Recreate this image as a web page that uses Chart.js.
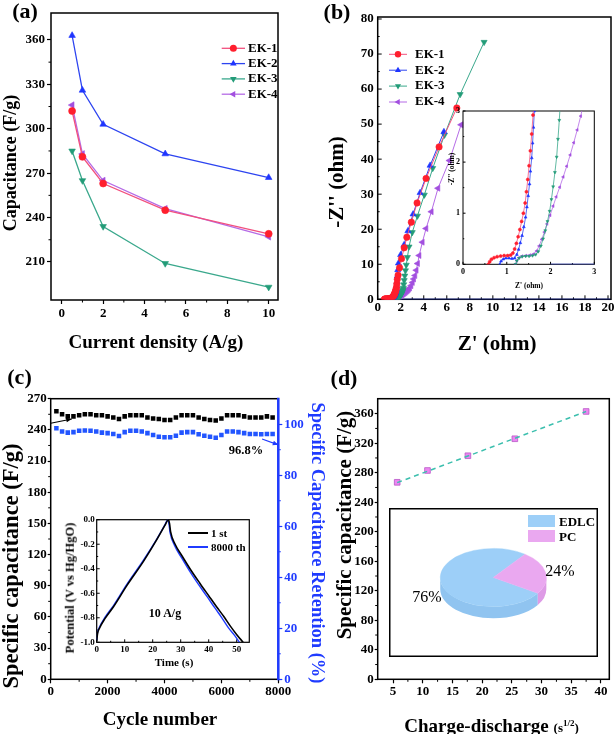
<!DOCTYPE html>
<html>
<head>
<meta charset="utf-8">
<script src="https://cdn.jsdelivr.net/npm/chart.js@4.4.1/dist/chart.umd.min.js"></script>
<style>
  html, body { margin: 0; padding: 0; background: #fff; overflow: hidden; }
  #fig { position: relative; width: 614px; height: 734px; overflow: hidden;
         font-family: "Liberation Serif", "Times New Roman", serif; color: #000; }
  #fig canvas { position: absolute; }
  .t { position: absolute; white-space: nowrap; line-height: 1; font-weight: bold; transform: translate(-50%, -50%); }
  .up { transform: translate(-50%, -50%) rotate(-90deg); }
  .dn { transform: translate(-50%, -50%) rotate(90deg); }
  .l { transform: translate(0, -50%); }
  .n { font-weight: normal; }
  .box { position: absolute; }
</style>
</head>
<body>
<div id="fig">
  <canvas id="cA" width="307" height="367" style="left:0;top:0"></canvas>
  <canvas id="cB" width="307" height="367" style="left:307px;top:0"></canvas>
  <canvas id="cBin" width="160" height="200" style="left:440px;top:100px"></canvas>
  <canvas id="cC" width="307" height="367" style="left:0;top:367px"></canvas>
  <canvas id="cCin" width="200" height="160" style="left:60px;top:500px"></canvas>
  <canvas id="cD" width="307" height="367" style="left:307px;top:367px"></canvas>
  <canvas id="cDin" width="209" height="149" style="left:389px;top:508px"></canvas>

  <!-- panel letters -->
  <div class="t" style="left:25px;top:11px;font-size:22px">(a)</div>
  <div class="t" style="left:337px;top:12px;font-size:22px">(b)</div>
  <div class="t" style="left:19.5px;top:377px;font-size:22px">(c)</div>
  <div class="t" style="left:344px;top:378px;font-size:22px">(d)</div>

  <!-- axis titles -->
  <div class="t up" style="left:9.5px;top:163px;font-size:18px">Capacitance (F/g)</div>
  <div class="t" style="left:156px;top:341px;font-size:19px">Current density (A/g)</div>
  <div class="t up" style="left:336px;top:182px;font-size:21px">-Z'' (ohm)</div>
  <div class="t" style="left:497px;top:343px;font-size:21px">Z' (ohm)</div>
  <div class="t up" style="left:452px;top:169px;font-size:7.5px">-Z'' (ohm)</div>
  <div class="t" style="left:529px;top:286px;font-size:7.5px">Z' (ohm)</div>

  <div class="t up" style="left:11px;top:566px;font-size:22.5px">Specific capacitance (F/g)</div>
  <div class="t dn" style="left:318px;top:543px;font-size:18.5px;color:#1f3bff">Specific Capacitance Retention (%)</div>
  <div class="t" style="left:160px;top:718px;font-size:19px">Cycle number</div>
  <div class="t up" style="left:70px;top:588px;font-size:12.5px">Potential (V vs Hg/HgO)</div>
  <div class="t" style="left:174px;top:662px;font-size:11px">Time (s)</div>

  <div class="t up" style="left:344px;top:525px;font-size:21px">Specific capacitance (F/g)</div>
  <div class="t" style="left:491.5px;top:725px;font-size:19px">Charge-discharge <span style="font-size:13px">(s<sup style="font-size:9px">1/2</sup>)</span></div>

  <!-- annotations (c) -->
  <div class="t" style="left:246px;top:450px;font-size:12.5px">96.8%</div>
  <div class="t" style="left:165px;top:613px;font-size:12px">10 A/g</div>
  <div class="box" style="left:188px;top:532px;width:20px;height:2px;background:#000"></div>
  <div class="t l" style="left:211px;top:533px;font-size:11px">1 st</div>
  <div class="box" style="left:188px;top:546px;width:20px;height:2px;background:#1f3bff"></div>
  <div class="t l" style="left:211px;top:547px;font-size:11px">8000 th</div>

  <!-- annotations (d) -->
  <div class="t n" style="left:427px;top:597px;font-size:16px">76%</div>
  <div class="t n" style="left:560px;top:571px;font-size:16px">24%</div>
  <div class="box" style="left:528px;top:515px;width:27px;height:12px;background:#9dcff8"></div>
  <div class="t l" style="left:559px;top:521px;font-size:13px">EDLC</div>
  <div class="box" style="left:528px;top:530px;width:27px;height:12px;background:#eaa8f0"></div>
  <div class="t l" style="left:559px;top:536px;font-size:13px">PC</div>
</div>

<script>
// (a) rate capability
const currentDensity = [0.5, 1, 2, 5, 10];
const capEK1 = [312, 281, 263, 245, 229];
const capEK2 = [363, 326, 303, 283, 267];
const capEK3 = [285, 265, 234, 209, 193];
const capEK4 = [316, 283, 265, 246, 227];
const ticksAx = [0, 2, 4, 6, 8, 10];
const ticksAy = [210, 240, 270, 300, 330, 360];

// (b) Nyquist plots, [Z', -Z'']
const nyqEK1 = [[0.58,0],[0.61,0.05],[0.65,0.1],[0.71,0.13],[0.78,0.15],[0.86,0.16],[0.94,0.17],[1.02,0.17],[1.09,0.18],
  [1.14,0.22],[1.18,0.3],[1.22,0.41],[1.26,0.54],[1.3,0.68],[1.34,0.84],[1.38,1.0],[1.42,1.2],[1.45,1.42],[1.48,1.66],
  [1.51,1.93],[1.54,2.22],[1.57,2.55],[1.6,2.92],[1.63,3.4],[1.66,4.4],[1.7,5.7],[1.77,6.9],[1.9,9.0],[2.07,11.6],
  [2.3,14.7],[2.53,17.7],[2.92,22.0],[3.42,27.5],[4.2,34.5],[5.33,43.5],[6.87,54.6]];
const nyqEK2 = [[0.84,0],[0.87,0.06],[0.92,0.1],[0.98,0.12],[1.05,0.12],[1.12,0.11],[1.18,0.12],[1.23,0.19],[1.27,0.29],
  [1.31,0.42],[1.35,0.56],[1.39,0.73],[1.43,0.92],[1.46,1.12],[1.49,1.34],[1.52,1.57],[1.54,1.82],[1.57,2.08],[1.59,2.37],
  [1.61,2.68],[1.63,3.0],[1.65,3.8],[1.67,5.0],[1.7,6.6],[1.74,8.4],[1.8,10.3],[1.99,12.7],[2.28,15.5],[2.62,19.5],
  [3.07,24.3],[3.68,30.4],[4.55,38.2],[5.75,47.8]];
const nyqEK2Tail = [[2.0,0],[20.2,0]];
const nyqEK3 = [[1.2,0],[1.23,0.07],[1.28,0.12],[1.35,0.15],[1.43,0.16],[1.51,0.16],[1.59,0.17],[1.66,0.19],[1.72,0.25],
  [1.78,0.36],[1.83,0.5],[1.88,0.66],[1.93,0.84],[1.98,1.04],[2.02,1.27],[2.06,1.52],[2.1,1.8],[2.14,2.1],[2.17,2.45],
  [2.2,2.82],[2.23,3.25],[2.26,4.2],[2.3,5.4],[2.35,6.7],[2.41,8.2],[2.48,9.8],[2.58,12.0],[2.72,15.0],[3.0,19.1],
  [3.45,23.8],[4.05,29.8],[4.78,37.4],[5.8,46.9],[7.16,58.5],[9.24,73.4]];
const nyqEK4 = [[1.2,0],[1.23,0.07],[1.28,0.13],[1.35,0.16],[1.44,0.17],[1.53,0.18],[1.61,0.2],[1.68,0.26],[1.74,0.36],
  [1.8,0.49],[1.86,0.63],[1.92,0.79],[1.99,0.96],[2.06,1.14],[2.13,1.32],[2.21,1.51],[2.29,1.71],[2.37,1.92],[2.45,2.14],
  [2.53,2.38],[2.61,2.63],[2.69,2.9],[2.78,3.25],[2.9,3.9],[3.02,4.8],[3.13,5.8],[3.24,6.8],[3.35,8.3],[3.47,10.2],
  [3.6,12.5],[3.88,16.3],[4.2,20.2],[4.66,25.0],[5.24,31.7],[6.23,39.6],[7.24,49.8]];
const ticksBx = [0, 2, 4, 6, 8, 10, 12, 14, 16, 18, 20];
const ticksBy = [0, 10, 20, 30, 40, 50, 60, 70, 80];
const ticksInset = [0, 1, 2, 3];

// (c) cycling stability
const cycleNumber = [200, 400, 600, 800, 1000, 1200, 1400, 1600, 1800, 2000, 2200, 2400, 2600, 2800, 3000, 3200,
  3400, 3600, 3800, 4000, 4200, 4400, 4600, 4800, 5000, 5200, 5400, 5600, 5800, 6000, 6200, 6400, 6600, 6800,
  7000, 7200, 7400, 7600, 7800];
const cycleCapacitance = [258, 255, 253, 253, 254, 255, 255, 254, 254, 253, 252, 250.5, 253, 254, 254, 254, 252,
  251, 250.5, 249.5, 249.5, 252, 254, 254, 254, 252, 250.5, 249.5, 249, 251, 254, 254, 254, 253, 252, 252, 252, 253, 252];
const cycleRetention = [98.4, 97.1, 96.7, 96.9, 97.4, 97.5, 97.4, 97.1, 96.7, 96.5, 96.2, 95.4, 96.9, 97.4, 97.4,
  97.1, 96.5, 95.8, 95.1, 94.9, 94.9, 95.5, 96.7, 96.9, 96.9, 96.1, 95.5, 95.1, 94.7, 95.8, 97.1, 97.1, 96.9, 96.5,
  96.2, 96.2, 96.1, 96.2, 96.2];
const ticksCx = [0, 2000, 4000, 6000, 8000];
const ticksCy = [0, 30, 60, 90, 120, 150, 180, 210, 240, 270];
const ticksCy1 = [0, 20, 40, 60, 80, 100];
// inset: galvanostatic charge-discharge at 10 A/g
const gcdTime1st = [0, 0.3, 1, 3, 6, 10.7, 16.7, 21.4, 24.4, 25.6, 26.0, 26.4, 28, 30.6, 33.6, 36.9, 40, 42.8, 45.4, 47.8, 50.1, 52.3];
const gcdPot1st = [-0.99, -0.93, -0.885, -0.805, -0.71, -0.54, -0.34, -0.165, -0.045, 0, -0.03, -0.1, -0.2, -0.3,
  -0.41, -0.52, -0.62, -0.71, -0.79, -0.87, -0.94, -1.0];
const gcdTime8000 = [0, 0.3, 1, 3, 6, 10.7, 16.7, 21.4, 24.4, 25.4, 25.8, 26.2, 27.8, 30.3, 33.2, 36.4, 39.5, 42.2, 44.7, 47.0, 49.1, 51.0];
const gcdPot8000 = [-0.98, -0.92, -0.875, -0.795, -0.7, -0.53, -0.33, -0.16, -0.04, 0, -0.035, -0.105, -0.21, -0.31,
  -0.42, -0.53, -0.63, -0.72, -0.8, -0.88, -0.94, -1.0];
const ticksGcdX = [0, 10, 20, 30, 40, 50];
const ticksGcdY = [-1.0, -0.8, -0.6, -0.4, -0.2, 0.0];

// (d) capacitance vs charge-discharge time
const sqrtTime = [5.7, 10.8, 17.6, 25.5, 37.5];
const capRate = [267, 283, 303, 326, 363];
const fitX = [5.7, 37.5];
const fitY = [266.5, 363];
const ticksDx = [5, 10, 15, 20, 25, 30, 35, 40];
const ticksDy = [0, 40, 80, 120, 160, 200, 240, 280, 320, 360];
const shareLabels = ['EDLC', 'PC'];
const shareValues = [76, 24];

const EK = {
  'EK-1': { line: '#f2507e', mark: '#ff1f2d', shape: 'circle', rot: 0 },
  'EK-2': { line: '#2d44f0', mark: '#1f35ff', shape: 'triangle', rot: 0 },
  'EK-3': { line: '#3aa88c', mark: '#239c78', shape: 'triangle', rot: 180 },
  'EK-4': { line: '#b56be6', mark: '#a24fdf', shape: 'triangle', rot: 270 }
};
const BLUE = '#1f3bff';

Chart.defaults.font.family = '"Liberation Serif", "Times New Roman", serif';
Chart.defaults.font.weight = 'bold';
Chart.defaults.color = '#000';
Chart.defaults.animation = false;
Chart.defaults.responsive = false;
Chart.defaults.events = [];
Chart.defaults.plugins.legend.display = false;
Chart.defaults.plugins.tooltip.enabled = false;

const xy = (xs, ys) => xs.map((x, i) => ({ x, y: ys[i] }));
const pairs = arr => arr.map(([x, y]) => ({ x, y }));

function lineSet(label, data, st, r, bw) {
  return {
    label, data, borderColor: st.line, borderWidth: bw, tension: 0,
    pointStyle: st.shape, pointRotation: st.rot, pointRadius: r,
    pointBackgroundColor: st.mark, pointBorderColor: st.mark, pointBorderWidth: 0.6
  };
}

// fixed-size linear axis so the plot frame lands where it should
function axis(o) {
  const tl = o.tick ?? 4;
  return {
    type: 'linear', position: o.pos, min: o.min, max: o.max,
    afterBuildTicks: s => { s.ticks = o.ticks.map(v => ({ value: v })); },
    afterFit: s => {
      if (s.isHorizontal()) s.height = o.size; else s.width = o.size;
      s.paddingLeft = s.paddingRight = s.paddingTop = s.paddingBottom = 0;
    },
    grid: { display: tl > 0, drawOnChartArea: false, drawTicks: tl > 0, tickLength: tl,
            tickColor: o.color || '#000', tickWidth: 1.2 },
    border: { display: false },
    ticks: { color: o.color || '#000', font: { size: o.font || 13, weight: 'bold' }, padding: o.pad ?? 2,
             maxRotation: 0, minRotation: 0, autoSkip: false, callback: o.fmt || (v => String(v)) }
  };
}

function drawMarker(ctx, style, rot, r, x, y, color) {
  ctx.save();
  ctx.fillStyle = color;
  ctx.translate(x, y);
  ctx.rotate(rot * Math.PI / 180);
  ctx.beginPath();
  if (style === 'triangle') {
    ctx.moveTo(0, -r); ctx.lineTo(r * 0.866, r * 0.5); ctx.lineTo(-r * 0.866, r * 0.5); ctx.closePath();
  } else if (style === 'rect') {
    ctx.rect(-r * 0.707, -r * 0.707, r * 1.414, r * 1.414);
  } else {
    ctx.arc(0, 0, r, 0, Math.PI * 2);
  }
  ctx.fill();
  ctx.restore();
}

// Origin-like box, minor ticks, optional inward ticks
function frame(o) {
  return {
    id: 'frame',
    beforeDatasetsDraw(chart) {
      const { ctx, chartArea: a } = chart;
      ctx.save();
      ctx.strokeStyle = '#000';
      ctx.lineWidth = o.width || 1.5;
      ctx.strokeRect(a.left, a.top, a.width, a.height);
      if (o.rightColor) {
        ctx.strokeStyle = o.rightColor; ctx.lineWidth = 2.5;
        ctx.beginPath(); ctx.moveTo(a.right, a.top - 1); ctx.lineTo(a.right, a.bottom + 1); ctx.stroke();
      }
      const tickAt = (s, p, len) => {
        ctx.beginPath();
        if (s.position === 'left') { ctx.moveTo(a.left, p); ctx.lineTo(a.left - len, p); }
        else if (s.position === 'right') { ctx.moveTo(a.right, p); ctx.lineTo(a.right + len, p); }
        else { ctx.moveTo(p, a.bottom); ctx.lineTo(p, a.bottom + len); }
        ctx.stroke();
      };
      (o.minor || []).forEach(id => {
        const s = chart.scales[id];
        const v = s.ticks.map(t => t.value);
        ctx.strokeStyle = s.options.ticks.color; ctx.lineWidth = 1;
        for (let i = 0; i < v.length - 1; i++) tickAt(s, s.getPixelForValue((v[i] + v[i + 1]) / 2), o.minorLen || 2.5);
      });
      (o.inward || []).forEach(id => {
        const s = chart.scales[id];
        const v = s.ticks.map(t => t.value);
        ctx.strokeStyle = '#000'; ctx.lineWidth = 1;
        v.forEach(val => tickAt(s, s.getPixelForValue(val), -(o.inLen || 3)));
        for (let i = 0; i < v.length - 1; i++) tickAt(s, s.getPixelForValue((v[i] + v[i + 1]) / 2), -(o.inLen || 3) / 2);
      });
      ctx.restore();
    }
  };
}

// line + marker legend drawn inside the plot
function keyLegend(o) {
  return {
    id: 'keyLegend',
    afterDatasetsDraw(chart) {
      const ctx = chart.ctx;
      let row = 0;
      chart.data.datasets.forEach(ds => {
        if (!ds.label) return;
        const y = o.y + row++ * o.dy;
        ctx.save();
        ctx.strokeStyle = ds.borderColor; ctx.lineWidth = ds.borderWidth;
        ctx.beginPath(); ctx.moveTo(o.x, y); ctx.lineTo(o.x + o.len, y); ctx.stroke();
        drawMarker(ctx, ds.pointStyle, ds.pointRotation, ds.pointRadius, o.x + o.len / 2, y, ds.pointBackgroundColor);
        ctx.fillStyle = '#000';
        ctx.font = 'bold ' + o.size + 'px "Liberation Serif"';
        ctx.textBaseline = 'middle';
        ctx.fillText(ds.label, o.textX, y);
        ctx.restore();
      });
    }
  };
}

// ---------- (a) ----------
new Chart(document.getElementById('cA'), {
  type: 'line',
  data: { datasets: [
    lineSet('EK-1', xy(currentDensity, capEK1), EK['EK-1'], 3.5, 1.3),
    lineSet('EK-2', xy(currentDensity, capEK2), EK['EK-2'], 3.8, 1.3),
    lineSet('EK-3', xy(currentDensity, capEK3), EK['EK-3'], 3.8, 1.3),
    lineSet('EK-4', xy(currentDensity, capEK4), EK['EK-4'], 3.8, 1.3)
  ] },
  options: {
    layout: { autoPadding: false, padding: { top: 13, right: 29, left: 0, bottom: 0 } },
    scales: {
      x: axis({ pos: 'bottom', min: -0.52, max: 10.45, ticks: ticksAx, size: 67, tick: 4, pad: 2 }),
      y: axis({ pos: 'left', min: 184.3, max: 378.2, ticks: ticksAy, size: 51, tick: 4, pad: 2 })
    }
  },
  plugins: [frame({ minor: ['x', 'y'] }),
            keyLegend({ x: 221.7, y: 48.3, dy: 15.3, len: 23.3, textX: 248, size: 13 })]
});

// ---------- (b) ----------
const nyqSets = (r, bw) => [
  lineSet('EK-1', pairs(nyqEK1), EK['EK-1'], r, bw),
  lineSet('EK-2', pairs(nyqEK2), EK['EK-2'], r * 1.1, bw),
  lineSet('EK-3', pairs(nyqEK3), EK['EK-3'], r * 1.1, bw),
  lineSet('EK-4', pairs(nyqEK4), EK['EK-4'], r * 1.1, bw),
  Object.assign(lineSet('', pairs(nyqEK2Tail), EK['EK-2'], 0, 1.2), { pointRadius: 0 })
];

new Chart(document.getElementById('cB'), {
  type: 'line',
  data: { datasets: nyqSets(3.2, 1) },
  options: {
    layout: { autoPadding: false, padding: { top: 17, right: 3, left: 0, bottom: 0 } },
    scales: {
      x: axis({ pos: 'bottom', min: 0, max: 20.26, ticks: ticksBx, size: 67.7, tick: 0, pad: 1 }),
      y: axis({ pos: 'left', min: 0, max: 80.57, ticks: ticksBy, size: 70.7, tick: 0, pad: 4 })
    }
  },
  plugins: [frame({ inward: ['x', 'y'], inLen: 4 }),
            keyLegend({ x: 82, y: 54.3, dy: 15.9, len: 18, textX: 108, size: 13 })]
});

new Chart(document.getElementById('cBin'), {
  type: 'line',
  data: { datasets: nyqSets(1.5, 0.8) },
  options: {
    layout: { autoPadding: false, padding: { top: 11, right: 5.7, left: 0, bottom: 0 } },
    scales: {
      x: axis({ pos: 'bottom', min: 0, max: 3, ticks: ticksInset, size: 35.7, tick: 0, pad: 3, font: 8 }),
      y: axis({ pos: 'left', min: 0, max: 3, ticks: ticksInset, size: 23, tick: 0, pad: 3, font: 8 })
    }
  },
  plugins: [frame({ width: 1, inward: ['x', 'y'], inLen: 2.5 })]
});

// ---------- (c) ----------
const cycleArrows = [
  { axis: 'y', from: [0, 246.4], to: [740, 250.5], color: '#000' },
  { axis: 'y1', from: [7430, 94.2], to: [8000, 91.9], color: BLUE }
];
const arrowPlugin = {
  id: 'arrows',
  afterDatasetsDraw(chart) {
    const { ctx, scales } = chart;
    cycleArrows.forEach(a => {
      const x0 = scales.x.getPixelForValue(a.from[0]), y0 = scales[a.axis].getPixelForValue(a.from[1]);
      const x1 = scales.x.getPixelForValue(a.to[0]), y1 = scales[a.axis].getPixelForValue(a.to[1]);
      const ang = Math.atan2(y1 - y0, x1 - x0);
      ctx.save();
      ctx.strokeStyle = ctx.fillStyle = a.color; ctx.lineWidth = 1.2;
      ctx.beginPath(); ctx.moveTo(x0, y0); ctx.lineTo(x1, y1); ctx.stroke();
      ctx.beginPath();
      ctx.moveTo(x1, y1);
      ctx.lineTo(x1 - 6 * Math.cos(ang - 0.4), y1 - 6 * Math.sin(ang - 0.4));
      ctx.lineTo(x1 - 6 * Math.cos(ang + 0.4), y1 - 6 * Math.sin(ang + 0.4));
      ctx.closePath(); ctx.fill();
      ctx.restore();
    });
  }
};

new Chart(document.getElementById('cC'), {
  type: 'line',
  data: { datasets: [
    { label: 'Capacitance', data: xy(cycleNumber, cycleCapacitance), yAxisID: 'y', showLine: false,
      pointStyle: 'rect', pointRadius: 3.2, pointBackgroundColor: '#000', pointBorderColor: '#000', pointBorderWidth: 0 },
    { label: 'Retention', data: xy(cycleNumber, cycleRetention), yAxisID: 'y1', showLine: false,
      pointStyle: 'rect', pointRadius: 3.2, pointBackgroundColor: '#2255ff', pointBorderColor: '#2255ff', pointBorderWidth: 0 }
  ] },
  options: {
    layout: { autoPadding: false, padding: { top: 31.7, right: 0, left: 0, bottom: 0 } },
    scales: {
      x: axis({ pos: 'bottom', min: 0, max: 8000, ticks: ticksCx, size: 54.7, tick: 4, pad: 1 }),
      y: axis({ pos: 'left', min: 0, max: 270, ticks: ticksCy, size: 50.7, tick: 3, pad: 1 }),
      y1: axis({ pos: 'right', min: 0, max: 110, ticks: ticksCy1, size: 28.7, tick: 4, pad: 2, color: BLUE })
    }
  },
  plugins: [frame({ minor: ['x', 'y', 'y1'], rightColor: BLUE }), arrowPlugin]
});

new Chart(document.getElementById('cCin'), {
  type: 'line',
  data: { datasets: [
    { label: '1 st', data: xy(gcdTime1st, gcdPot1st), borderColor: '#000', borderWidth: 1.6,
      pointRadius: 0, cubicInterpolationMode: 'monotone' },
    { label: '8000 th', data: xy(gcdTime8000, gcdPot8000), borderColor: BLUE, borderWidth: 1.4,
      pointRadius: 0, cubicInterpolationMode: 'monotone' }
  ] },
  options: {
    layout: { autoPadding: false, padding: { top: 19.7, right: 10.7, left: 0, bottom: 0 } },
    scales: {
      x: axis({ pos: 'bottom', min: 0, max: 54.5, ticks: ticksGcdX, size: 17.7, tick: 0, pad: 2, font: 9 }),
      y: axis({ pos: 'left', min: -1.0, max: 0.0, ticks: ticksGcdY, size: 36.7, tick: 0, pad: 2, font: 9,
                fmt: v => v.toFixed(1) })
    }
  },
  plugins: [frame({ width: 1.2, inward: ['x', 'y'], inLen: 3 })]
});

// ---------- (d) ----------
new Chart(document.getElementById('cD'), {
  type: 'line',
  data: { datasets: [
    { label: 'fit', data: xy(fitX, fitY), borderColor: '#3cbfae', borderWidth: 1.5, borderDash: [5, 4], pointRadius: 0 },
    { label: 'Capacitance', data: xy(sqrtTime, capRate), showLine: false, pointStyle: 'rect', pointRadius: 4,
      pointBackgroundColor: '#ec86f1', pointBorderColor: '#b957c8', pointBorderWidth: 0.8 }
  ] },
  options: {
    layout: { autoPadding: false, padding: { top: 31.7, right: 4.7, left: 0, bottom: 0 } },
    scales: {
      x: axis({ pos: 'bottom', min: 2.42, max: 41.4, ticks: ticksDx, size: 54.7, tick: 4, pad: 1 }),
      y: axis({ pos: 'left', min: 0, max: 380.3, ticks: ticksDy, size: 70.7, tick: 3, pad: 1 })
    }
  },
  plugins: [frame({ minor: ['x', 'y'] })]
});

// pseudo-3D pie: side band + vertically squashed top face
const pieTop = ['#9dcff8', '#eaa8f0'];
const pieSide = ['#90c4f0', '#de9be6'];
const pie3d = {
  id: 'pie3d',
  beforeDatasetsDraw(chart) {
    const ctx = chart.ctx;
    const arcs = chart.getDatasetMeta(0).data;
    const cx = arcs[0].x, cy = arcs[0].y, r = arcs[0].outerRadius;
    const squash = 0.548, depth = 11.7, ry = r * squash;
    arcs.forEach((arc, i) => {
      ctx.fillStyle = pieSide[i];
      for (let k = -1; k <= 1; k++) {
        const a0 = Math.max(arc.startAngle + 2 * Math.PI * k, 0);
        const a1 = Math.min(arc.endAngle + 2 * Math.PI * k, Math.PI);
        if (a1 <= a0) continue;
        ctx.beginPath();
        ctx.ellipse(cx, cy, r, ry, 0, a0, a1);
        ctx.lineTo(cx + r * Math.cos(a1), cy + ry * Math.sin(a1) + depth);
        ctx.ellipse(cx, cy + depth, r, ry, 0, a1, a0, true);
        ctx.closePath();
        ctx.fill();
      }
    });
    ctx.save();
    ctx.translate(cx, cy); ctx.scale(1, squash); ctx.translate(-cx, -cy);
  },
  afterDatasetsDraw(chart) {
    chart.ctx.restore();
  },
  afterDraw(chart) {
    const ctx = chart.ctx;
    ctx.save();
    ctx.strokeStyle = '#000'; ctx.lineWidth = 1.5;
    ctx.strokeRect(0.75, 0.75, chart.width - 1.5, chart.height - 1.5);
    ctx.restore();
  }
};

new Chart(document.getElementById('cDin'), {
  type: 'pie',
  data: { labels: shareLabels, datasets: [{ data: shareValues, backgroundColor: pieTop, borderColor: pieTop, borderWidth: 0.5 }] },
  options: {
    rotation: 123,
    layout: { autoPadding: false, padding: { left: 51, top: 16.2, right: 51.4, bottom: 26.2 } }
  },
  plugins: [pie3d]
});
</script>
</body>
</html>
